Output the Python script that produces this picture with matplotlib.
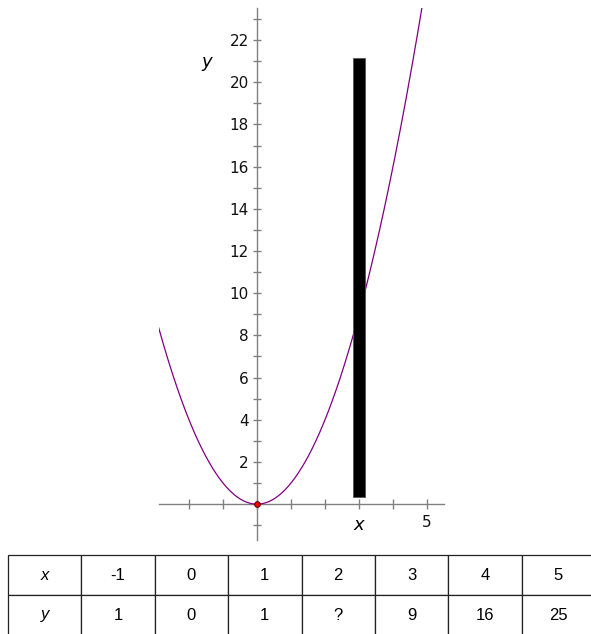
import matplotlib
matplotlib.use("Agg")
import matplotlib.pyplot as plt
import numpy as np

# Table values
table_x = ["-1", "0", "1", "2", "3", "4", "5"]
table_y = ["1", "0", "1", "?", "9", "16", "25"]

# Highlighted bar at x = 3
bar_x = 3
bar_bottom = 0.33
bar_top = 21.15

# Axis ticks
x_ticks = [-2, -1, 0, 1, 2, 3, 4, 5]
y_ticks = list(range(-1, 24))
y_labeled = list(range(2, 23, 2))

W, H = 591, 634
fig = plt.figure(figsize=(W / 100, H / 100), dpi=100)

# Main axes placed by pixel bounds
left_px, right_px = 159, 444
top_px, bottom_px = 8, 540
ax = fig.add_axes([left_px / W, 1 - bottom_px / H,
                   (right_px - left_px) / W, (bottom_px - top_px) / H])
ax.set_xlim(-2.882, 5.5)
ax.set_ylim(-1.70, 23.52)

# Curve y = x^2
xs = np.linspace(-2.9, 5.0, 400)
ax.plot(xs, xs ** 2, color="#800080", lw=0.9, zorder=3)

# Black bar
ax.bar([bar_x], [bar_top - bar_bottom], bottom=bar_bottom, width=0.35,
       color="black", edgecolor="#555555", linewidth=0.6, zorder=4)

# Point at origin
ax.plot([0], [0], "o", ms=4, mfc="red", mec="#660000", mew=0.8, zorder=5)

# Axes through origin
for s in ["top", "right"]:
    ax.spines[s].set_visible(False)
ax.spines["left"].set_position(("data", 0))
ax.spines["bottom"].set_position(("data", 0))
for s in ["left", "bottom"]:
    ax.spines[s].set_color("#808080")
    ax.spines[s].set_linewidth(1.0)

ax.set_xticks(x_ticks)
ax.set_xticklabels(["5" if t == 5 else "" for t in x_ticks])
ax.set_yticks(y_ticks)
ax.set_yticklabels([str(t) if t in y_labeled else "" for t in y_ticks])
ax.tick_params(axis="both", direction="inout", color="#808080", width=1.0,
               labelsize=11, labelcolor="#111111")
ax.tick_params(axis="x", length=7.5, pad=4)
ax.tick_params(axis="y", length=6, pad=3)

ax.text(3, -1.0, "x", style="italic", fontsize=13, ha="center", va="center")
ax.text(-1.48, 20.95, "y", style="italic", fontsize=13, ha="center", va="center")

# Table below the graph
tax = fig.add_axes([8 / W, (H - 635) / H, 587 / W, 80 / H])
tax.axis("off")
cells = [["x"] + table_x, ["y"] + table_y]
tbl = tax.table(cellText=cells, cellLoc="center", bbox=[0, 0, 1, 1])
tbl.auto_set_font_size(False)
for (r, c), cell in tbl.get_celld().items():
    cell.set_linewidth(0.9)
    cell.set_edgecolor("#222222")
    txt = cell.get_text()
    txt.set_fontsize(12)
    txt.set_fontfamily("Liberation Sans")
    if c == 0:
        txt.set_fontstyle("italic")

fig.savefig("out.png", dpi=100)
